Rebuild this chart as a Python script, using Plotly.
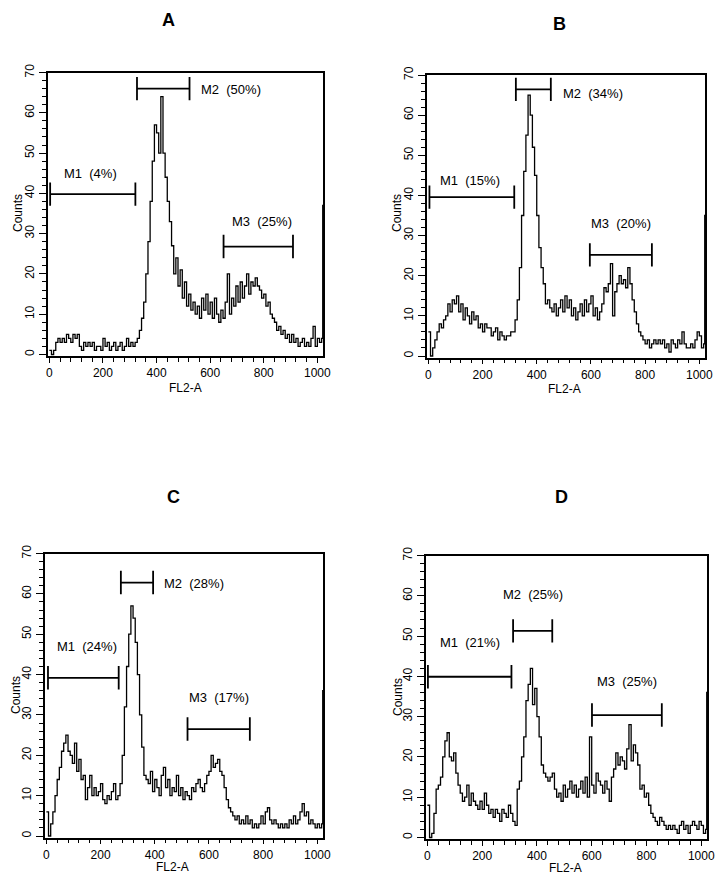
import plotly.graph_objects as go

W, H = 724, 881
FONT = "Liberation Sans, Arial, sans-serif"

# ---------------- data ----------------
channels = list(range(0, 1024, 8))  # bin starts, FL2-A channel

counts_A = [1, 0, 1, 3, 4, 3, 4, 3, 5, 4, 3, 5, 4, 5, 2, 1,
            3, 2, 3, 2, 3, 1, 2, 2, 1, 4, 2, 3, 1, 2, 3, 1,
            2, 3, 1, 2, 4, 2, 3, 2, 3, 4, 6, 9, 13, 20, 28, 38,
            48, 57, 55, 50, 64, 50, 44, 38, 33, 27, 20, 24, 17, 21, 14, 18,
            12, 15, 11, 13, 10, 12, 9, 14, 11, 15, 10, 13, 9, 14, 10, 8,
            11, 9, 13, 20, 10, 14, 12, 17, 13, 18, 14, 17, 20, 15, 18, 17,
            19, 17, 16, 14, 15, 12, 13, 10, 9, 8, 6, 7, 5, 6, 4, 5,
            3, 5, 3, 4, 2, 3, 4, 2, 3, 2, 4, 7, 2, 4, 3, 4]
counts_B = [6, 0, 2, 4, 6, 8, 7, 9, 10, 13, 11, 14, 13, 15, 11, 13,
            9, 12, 10, 8, 11, 9, 10, 7, 8, 6, 8, 7, 7, 5, 6, 7,
            4, 6, 5, 4, 5, 5, 6, 6, 9, 14, 22, 35, 46, 55, 65, 60,
            52, 45, 35, 27, 22, 18, 13, 14, 12, 11, 13, 10, 12, 14, 11, 15,
            12, 14, 10, 12, 9, 11, 13, 10, 14, 11, 13, 15, 10, 12, 9, 11,
            13, 17, 16, 18, 23, 10, 16, 18, 20, 18, 19, 17, 22, 18, 14, 11,
            8, 6, 5, 4, 3, 4, 2, 3, 4, 3, 4, 3, 4, 2, 3, 1,
            4, 3, 2, 4, 3, 6, 3, 2, 2, 3, 2, 4, 6, 5, 2, 3]
counts_C = [6, 0, 3, 6, 10, 14, 17, 21, 23, 25, 21, 20, 18, 23, 16, 19,
            14, 15, 9, 12, 15, 10, 12, 10, 11, 13, 9, 8, 10, 9, 11, 13,
            9, 10, 13, 20, 32, 42, 50, 57, 54, 48, 40, 30, 22, 15, 14, 13,
            16, 11, 14, 12, 10, 15, 17, 12, 14, 10, 12, 11, 15, 10, 12, 9,
            11, 10, 9, 12, 11, 13, 14, 12, 11, 13, 15, 16, 20, 17, 18, 19,
            16, 15, 12, 9, 7, 6, 5, 4, 5, 3, 4, 3, 5, 3, 4, 2,
            3, 2, 3, 5, 3, 6, 7, 4, 3, 4, 3, 2, 3, 2, 3, 2,
            4, 3, 5, 3, 4, 6, 8, 5, 6, 3, 4, 3, 2, 3, 2, 3]
counts_D = [8, 0, 1, 6, 12, 13, 15, 20, 24, 26, 20, 19, 21, 16, 13, 11,
            9, 10, 13, 8, 11, 9, 8, 7, 9, 7, 11, 8, 6, 7, 5, 7,
            6, 4, 7, 6, 5, 8, 6, 4, 3, 12, 14, 20, 25, 34, 38, 42,
            33, 37, 30, 25, 18, 16, 15, 14, 15, 16, 12, 10, 11, 9, 13, 10,
            12, 14, 11, 13, 10, 12, 14, 11, 15, 10, 25, 13, 11, 16, 14, 13,
            11, 14, 12, 9, 15, 17, 21, 18, 20, 19, 17, 22, 28, 19, 23, 21,
            18, 12, 13, 10, 11, 8, 6, 5, 4, 3, 5, 4, 3, 2, 3, 2,
            3, 2, 1, 3, 4, 2, 3, 1, 3, 4, 3, 2, 4, 3, 1, 2]
last_channel = 1020
last_counts = [37, 35, 36, 36]  # pile-up in final channel, A-D

panel_names = ["A", "B", "C", "D"]
gate_names = ["M1", "M2", "M3"]
gate_start = [[3, 327, 650], [4, 323, 596], [6, 275, 521], [2, 313, 601]]
gate_end = [[321, 523, 909], [317, 452, 825], [267, 394, 751], [307, 456, 856]]
gate_level = [[39.8, 66.0, 26.8], [39.6, 66.4, 25.2], [39.2, 62.8, 26.5], [39.9, 51.3, 30.4]]
gate_pct = [["4%", "50%", "25%"], ["15%", "34%", "20%"], ["24%", "28%", "17%"], ["21%", "25%", "25%"]]
label_x = [[154, 558, 795], [152, 491, 712], [150, 427, 637], [157, 387, 728]]
label_y = [[45.0, 65.7, 33.0], [43.6, 65.4, 33.0], [46.9, 62.6, 34.4], [48.5, 60.2, 38.7]]
label_anchor = [["center", "left", "center"], ["center", "left", "center"],
                ["center", "left", "center"], ["center", "center", "center"]]

# ---------------- layout (pixel boxes) ----------------
# (left, right, top(y=70), y0 pixel)
boxes = [(48, 323, 72.5, 354.5), (427, 705, 75, 356),
         (45, 323, 553.5, 836), (426, 707, 555.5, 837.5)]
title_pos = [(168, 20), (559, 24), (173, 497), (561, 497)]
counts_pos = [(18, 213), (397, 213), (16, 695), (398, 697)]
fl2_pos = [(185, 388), (564, 389), (172, 867), (565, 868)]

YMIN, YMAX = -0.4, 70
XMIN, XMAX = -5, 1021

fig = go.Figure()
all_counts = [counts_A, counts_B, counts_C, counts_D]
annotations = []

for i in range(4):
    sfx = "" if i == 0 else str(i + 1)
    xa, ya = "x" + sfx, "y" + sfx
    l, r, t, y0 = boxes[i]
    scale = (y0 - t) / 70.0
    bottom = y0 - YMIN * scale
    fig.add_trace(go.Scatter(
        x=channels + [last_channel, last_channel + 1],
        y=all_counts[i] + [last_counts[i], last_counts[i]],
        mode="lines", line=dict(color="black", width=1.3, shape="hv"),
        xaxis=xa, yaxis=ya, showlegend=False, hoverinfo="skip"))
    # gates
    for g in range(3):
        s, e, lv = gate_start[i][g], gate_end[i][g], gate_level[i][g]
        cap = 2.9
        fig.add_trace(go.Scatter(
            x=[s, s, None, s, e, None, e, e],
            y=[lv - cap, lv + cap, None, lv, lv, None, lv - cap, lv + cap],
            mode="lines", line=dict(color="black", width=1.8),
            xaxis=xa, yaxis=ya, showlegend=False, hoverinfo="skip"))
        annotations.append(dict(
            x=label_x[i][g], y=label_y[i][g], xref=xa, yref=ya,
            text=gate_names[g] + "\u00a0\u00a0(" + gate_pct[i][g] + ")",
            showarrow=False, xanchor=label_anchor[i][g], yanchor="middle",
            font=dict(family=FONT, size=13, color="black")))
    axis_common = dict(showgrid=False, zeroline=False, showline=True, mirror=True,
                       linecolor="black", linewidth=1.6, ticks="outside",
                       tickcolor="black", tickwidth=1.2, automargin=False,
                       tickfont=dict(family=FONT, size=12, color="black"))
    fig.update_layout(**{
        ("xaxis" + sfx): dict(domain=[l / W, r / W], range=[XMIN, XMAX], anchor=ya,
                              tickmode="linear", tick0=0, dtick=200, ticklen=5,
                              minor=dict(dtick=40, tick0=0, ticklen=4, ticks="outside",
                                         tickcolor="black", tickwidth=1.1, showgrid=False),
                              **axis_common),
        ("yaxis" + sfx): dict(domain=[1 - bottom / H, 1 - t / H], range=[YMIN, YMAX], anchor=xa,
                              tickmode="linear", tick0=0, dtick=10, ticklen=7, tickangle=-90,
                              minor=dict(dtick=2, tick0=0, ticklen=4, ticks="outside",
                                         tickcolor="black", tickwidth=1.1, showgrid=False),
                              **axis_common),
    })
    tx, ty = title_pos[i]
    annotations.append(dict(x=tx / W, y=1 - ty / H, xref="paper", yref="paper",
                            text="<b>" + panel_names[i] + "</b>", showarrow=False,
                            xanchor="center", yanchor="middle",
                            font=dict(family=FONT, size=18, color="black")))
    cx, cy = counts_pos[i]
    annotations.append(dict(x=cx / W, y=1 - cy / H, xref="paper", yref="paper",
                            text="Counts", showarrow=False, textangle=-90,
                            xanchor="center", yanchor="middle",
                            font=dict(family=FONT, size=12, color="black")))
    fx, fy = fl2_pos[i]
    annotations.append(dict(x=fx / W, y=1 - fy / H, xref="paper", yref="paper",
                            text="FL2-A", showarrow=False,
                            xanchor="center", yanchor="middle",
                            font=dict(family=FONT, size=12, color="black")))

fig.update_layout(width=W, height=H, margin=dict(l=0, r=0, t=0, b=0, pad=0, autoexpand=False),
                  paper_bgcolor="white", plot_bgcolor="white",
                  annotations=annotations, showlegend=False)

fig.write_html("out.html", config={"displayModeBar": False},
               post_script="document.body.style.margin='0';document.body.style.overflow='hidden';")
